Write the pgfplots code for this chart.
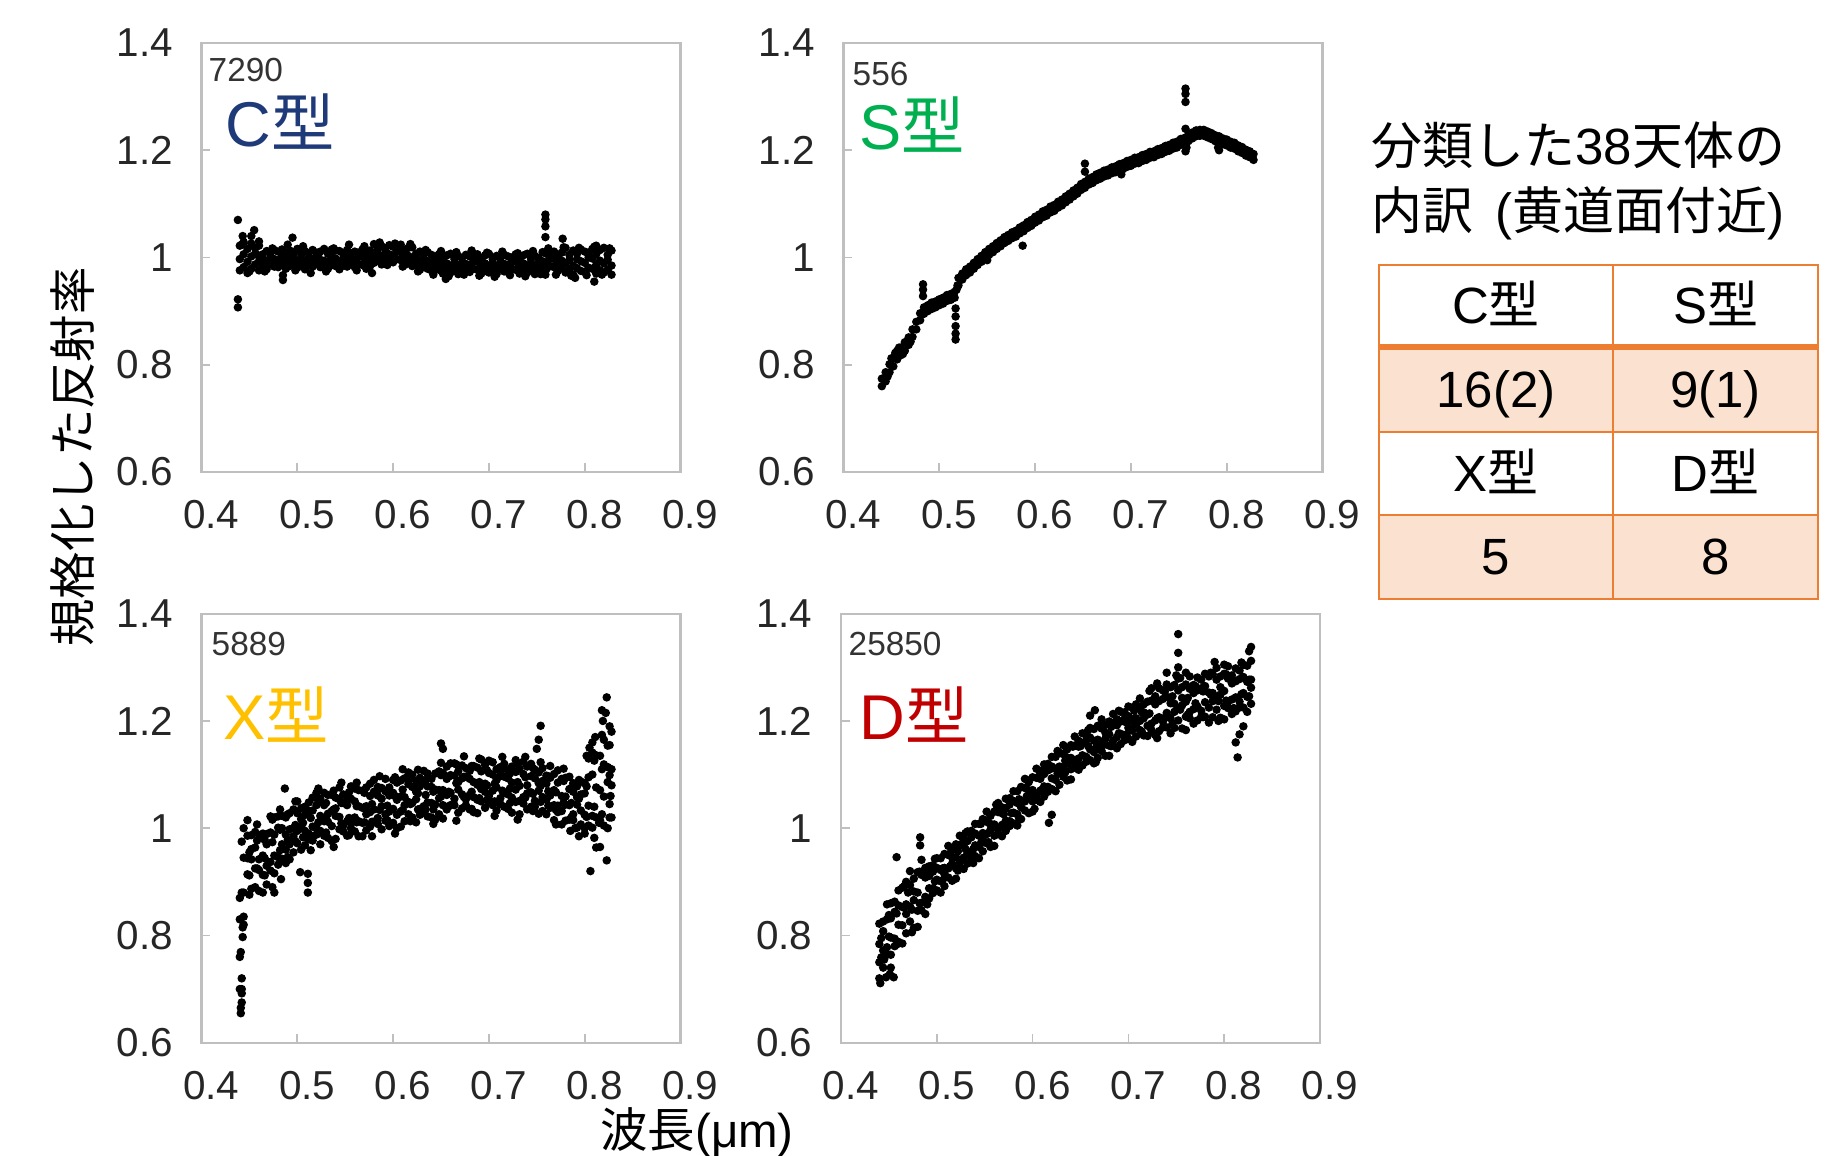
\documentclass[border=0pt]{standalone}
\usepackage{fontspec}
\setmainfont{Liberation Sans}
\newfontfamily\cjk{Noto Sans CJK JP}
\usepackage{pgfplots}
\usepackage{pgfplotstable}
\pgfplotsset{compat=1.18}

\definecolor{ctype}{HTML}{1F3A78}
\definecolor{stype}{HTML}{00B050}
\definecolor{xtype}{HTML}{FFC000}
\definecolor{dtype}{HTML}{C00000}
\definecolor{tabline}{HTML}{ED7D31}
\definecolor{tabfill}{HTML}{FBE2D0}
\definecolor{frame}{HTML}{BFBFBF}
\definecolor{idgray}{HTML}{333333}

\newcommand{\gata}[1]{#1{\cjk 型}}

% columns: wavelength, C (7290), S (556), X (5889), D (25850)
\pgfplotstableread{
x c1 c2 c3 s1 s2 x1 x2 x3 x4 d1 d2 d3 d4
0.440 1.022 0.997 0.976 0.774 0.760 0.700 0.760 0.830 0.870 0.720 0.750 0.784 0.822
0.444 1.029 1.006 0.982 0.786 0.769 0.820 0.880 0.945 1.000 0.740 0.772 0.808 0.826
0.448 1.016 0.992 0.971 0.801 0.786 0.914 0.944 0.986 1.015 0.764 0.778 0.830 0.858
0.452 1.026 1.002 0.979 0.812 0.797 0.887 0.942 0.961 0.987 0.764 0.796 0.832 0.860
0.456 1.017 1.007 0.987 0.826 0.810 0.890 0.925 0.964 0.993 0.780 0.794 0.844 0.863
0.460 1.022 0.993 0.976 0.832 0.818 0.883 0.922 0.942 0.987 0.788 0.820 0.856 0.884
0.464 1.006 0.999 0.985 0.842 0.826 0.880 0.913 0.949 0.990 0.785 0.819 0.853 0.889
0.468 1.012 0.991 0.978 0.851 0.837 0.895 0.930 0.970 0.989 0.804 0.840 0.858 0.900
0.472 1.008 1.000 0.987 0.866 0.852 0.921 0.937 0.992 1.022 0.826 0.854 0.894 0.920
0.476 1.014 0.997 0.983 0.880 0.866 0.916 0.949 0.988 1.020 0.814 0.866 0.882 0.906
0.480 1.011 0.995 0.982 0.896 0.883 0.932 0.946 1.001 1.022 0.816 0.846 0.880 0.918
0.484 1.015 1.001 0.986 0.907 0.895 0.943 0.970 1.000 1.023 0.847 0.861 0.913 0.941
0.488 1.007 0.992 0.979 0.911 0.900 0.935 0.960 0.988 1.020 0.840 0.872 0.908 0.926
0.492 1.013 0.998 0.984 0.916 0.904 0.942 0.970 0.998 1.028 0.869 0.888 0.911 0.929
0.496 1.009 1.002 0.988 0.918 0.907 0.955 0.985 1.000 1.035 0.879 0.888 0.919 0.931
0.500 1.016 0.994 0.981 0.922 0.911 0.972 0.995 1.028 1.050 0.884 0.904 0.926 0.944
0.504 1.006 0.999 0.985 0.925 0.914 0.960 1.003 1.017 1.037 0.880 0.901 0.922 0.944
0.508 1.012 0.991 0.978 0.930 0.919 0.968 0.995 1.025 1.040 0.892 0.914 0.926 0.952
0.512 1.008 1.000 0.987 0.932 0.921 0.979 0.990 1.032 1.048 0.908 0.925 0.950 0.967
0.516 1.014 0.997 0.983 0.936 0.925 0.977 1.003 1.033 1.057 0.902 0.934 0.945 0.960
0.520 1.009 1.002 0.988 0.962 0.948 0.988 1.000 1.043 1.066 0.906 0.925 0.946 0.970
0.524 1.011 0.995 0.982 0.970 0.959 0.970 0.995 1.023 1.055 0.928 0.936 0.969 0.986
0.528 1.016 0.994 0.981 0.978 0.967 0.986 1.013 1.043 1.066 0.924 0.945 0.967 0.978
0.532 1.007 0.992 0.979 0.983 0.972 0.982 1.012 1.027 1.062 0.934 0.953 0.976 0.994
0.536 1.015 1.001 0.986 0.990 0.979 0.976 1.004 1.032 1.062 0.943 0.952 0.983 0.995
0.540 1.013 0.998 0.984 0.997 0.986 0.980 1.023 1.037 1.057 0.948 0.968 0.990 1.008
0.544 1.012 0.991 0.978 1.003 0.992 0.998 1.021 1.054 1.076 0.944 0.965 0.986 1.008
0.548 1.006 0.999 0.985 1.010 0.999 0.994 1.005 1.047 1.063 0.957 0.979 0.991 1.017
0.552 1.014 0.997 0.983 1.016 1.005 0.986 1.013 1.043 1.058 0.972 0.989 1.014 1.031
0.556 1.008 1.000 0.987 1.021 1.010 1.000 1.012 1.055 1.078 0.965 0.997 1.008 1.023
0.560 1.011 0.995 0.982 1.027 1.016 0.994 1.020 1.050 1.074 0.967 0.986 1.007 1.031
0.564 1.009 1.002 0.988 1.032 1.021 0.985 1.013 1.041 1.071 0.989 0.997 1.030 1.047
0.568 1.015 1.001 0.986 1.038 1.027 0.985 1.010 1.038 1.070 0.985 1.006 1.028 1.039
0.572 1.007 0.992 0.979 1.042 1.031 0.996 1.026 1.041 1.076 0.995 1.014 1.037 1.055
0.576 1.013 0.998 0.984 1.047 1.036 1.003 1.030 1.060 1.083 1.004 1.013 1.044 1.056
0.580 1.025 1.003 0.990 1.050 1.039 1.012 1.035 1.068 1.090 1.009 1.029 1.051 1.069
0.584 1.015 1.008 0.994 1.056 1.045 1.008 1.019 1.061 1.077 1.005 1.026 1.047 1.069
0.588 1.021 1.000 0.987 1.060 1.049 0.998 1.041 1.055 1.075 1.017 1.039 1.051 1.077
0.592 1.017 1.009 0.996 1.066 1.055 1.014 1.026 1.069 1.092 1.033 1.050 1.075 1.092
0.596 1.023 1.006 0.992 1.070 1.059 1.004 1.031 1.061 1.076 1.028 1.060 1.071 1.086
0.600 1.020 1.004 0.991 1.076 1.065 1.010 1.036 1.066 1.090 1.031 1.050 1.071 1.095
0.604 1.018 1.011 0.997 1.080 1.069 1.000 1.025 1.053 1.085 1.053 1.061 1.094 1.111
0.608 1.024 1.010 0.995 1.086 1.075 1.003 1.031 1.059 1.089 1.049 1.070 1.092 1.103
0.612 1.014 0.999 0.986 1.089 1.078 1.013 1.043 1.058 1.093 1.059 1.078 1.101 1.119
0.616 1.018 1.003 0.989 1.095 1.084 1.026 1.049 1.082 1.104 1.068 1.077 1.108 1.120
0.620 1.019 0.997 0.984 1.098 1.087 1.020 1.047 1.077 1.100 1.073 1.093 1.115 1.133
0.624 1.007 1.000 0.986 1.104 1.093 1.011 1.054 1.068 1.088 1.069 1.090 1.111 1.133
0.628 1.011 0.990 0.977 1.108 1.097 1.025 1.036 1.078 1.094 1.081 1.103 1.115 1.141
0.632 1.005 0.997 0.984 1.114 1.103 1.029 1.041 1.084 1.107 1.096 1.113 1.138 1.155
0.636 1.010 0.993 0.979 1.119 1.108 1.022 1.048 1.078 1.102 1.089 1.121 1.132 1.147
0.640 1.005 0.989 0.976 1.125 1.114 1.020 1.047 1.077 1.092 1.091 1.110 1.131 1.155
0.644 1.002 0.995 0.981 1.130 1.119 1.016 1.044 1.072 1.102 1.113 1.121 1.154 1.171
0.648 1.006 0.992 0.977 1.137 1.126 1.026 1.056 1.071 1.106 1.109 1.130 1.152 1.163
0.652 0.998 0.983 0.970 1.141 1.130 1.018 1.043 1.071 1.103 1.117 1.136 1.159 1.177
0.656 1.004 0.989 0.975 1.147 1.136 1.035 1.062 1.092 1.115 1.124 1.133 1.164 1.176
0.660 1.007 0.985 0.972 1.150 1.139 1.043 1.066 1.099 1.121 1.127 1.147 1.169 1.187
0.664 0.997 0.990 0.976 1.155 1.144 1.043 1.055 1.098 1.121 1.121 1.142 1.163 1.185
0.668 1.003 0.982 0.969 1.158 1.147 1.029 1.072 1.086 1.106 1.131 1.153 1.165 1.191
0.672 0.999 0.991 0.978 1.162 1.151 1.037 1.063 1.093 1.117 1.144 1.161 1.186 1.203
0.676 1.005 0.988 0.974 1.164 1.153 1.043 1.054 1.096 1.112 1.135 1.167 1.178 1.193
0.680 1.002 0.986 0.973 1.168 1.157 1.035 1.062 1.092 1.107 1.135 1.154 1.175 1.199
0.684 1.000 0.993 0.979 1.170 1.159 1.030 1.058 1.086 1.116 1.155 1.163 1.196 1.213
0.688 1.006 0.992 0.977 1.174 1.163 1.028 1.053 1.081 1.113 1.149 1.170 1.192 1.203
0.692 0.998 0.983 0.970 1.176 1.165 1.050 1.073 1.106 1.128 1.157 1.176 1.199 1.217
0.696 1.004 0.989 0.975 1.180 1.169 1.038 1.068 1.083 1.118 1.164 1.173 1.204 1.216
0.700 1.007 0.985 0.972 1.182 1.171 1.048 1.060 1.103 1.126 1.167 1.187 1.209 1.227
0.704 0.997 0.990 0.976 1.186 1.175 1.043 1.070 1.100 1.123 1.161 1.182 1.203 1.225
0.708 1.003 0.982 0.969 1.187 1.176 1.033 1.076 1.090 1.110 1.171 1.193 1.205 1.231
0.712 0.999 0.991 0.978 1.191 1.180 1.045 1.056 1.098 1.114 1.183 1.200 1.225 1.242
0.716 1.005 0.988 0.974 1.193 1.182 1.040 1.066 1.096 1.120 1.173 1.205 1.216 1.231
0.720 1.002 0.986 0.973 1.197 1.186 1.036 1.063 1.093 1.108 1.172 1.191 1.212 1.236
0.724 1.000 0.993 0.979 1.198 1.187 1.029 1.057 1.085 1.115 1.183 1.195 1.238 1.261
0.728 1.006 0.992 0.977 1.202 1.191 1.049 1.072 1.105 1.127 1.174 1.201 1.231 1.246
0.732 0.998 0.983 0.970 1.204 1.193 1.026 1.051 1.079 1.111 1.181 1.207 1.237 1.261
0.736 1.004 0.989 0.975 1.208 1.197 1.046 1.058 1.101 1.124 1.188 1.199 1.241 1.257
0.740 1.007 0.985 0.972 1.210 1.199 1.035 1.065 1.080 1.115 1.188 1.215 1.245 1.268
0.744 0.997 0.990 0.976 1.214 1.203 1.040 1.067 1.097 1.120 1.177 1.205 1.233 1.263
0.748 1.003 0.982 0.969 1.216 1.205 1.040 1.051 1.093 1.109 1.187 1.217 1.232 1.267
0.752 0.999 0.991 0.978 1.221 1.210 1.027 1.070 1.084 1.104 1.201 1.224 1.257 1.279
0.756 1.010 0.993 0.979 1.223 1.212 1.032 1.058 1.088 1.112 1.186 1.229 1.243 1.263
0.760 1.007 0.991 0.978 1.229 1.217 1.026 1.053 1.083 1.098 1.183 1.208 1.236 1.268
0.764 1.005 0.998 0.984 1.233 1.222 1.038 1.061 1.094 1.116 1.205 1.217 1.260 1.283
0.768 1.011 0.997 0.982 1.237 1.226 1.015 1.043 1.071 1.101 1.195 1.222 1.252 1.267
0.772 1.003 0.988 0.975 1.238 1.227 1.030 1.042 1.085 1.108 1.201 1.227 1.257 1.281
0.776 1.009 0.994 0.980 1.238 1.227 1.007 1.032 1.060 1.092 1.208 1.219 1.261 1.277
0.780 1.018 0.989 0.972 1.235 1.224 1.014 1.044 1.059 1.094 1.208 1.235 1.265 1.288
0.784 1.005 0.996 0.977 1.232 1.221 1.016 1.043 1.073 1.096 1.197 1.225 1.253 1.283
0.788 1.013 0.985 0.968 1.228 1.217 1.015 1.026 1.068 1.084 1.207 1.237 1.252 1.287
0.792 1.007 0.997 0.980 1.226 1.215 1.001 1.044 1.058 1.078 1.221 1.244 1.277 1.299
0.796 1.015 0.993 0.975 1.222 1.211 1.007 1.033 1.063 1.087 1.206 1.249 1.263 1.283
0.800 1.011 0.990 0.973 1.220 1.209 0.990 1.025 1.065 1.084 1.203 1.228 1.256 1.288
0.804 1.009 1.000 0.981 1.216 1.205 1.005 1.042 1.095 1.130 1.224 1.236 1.279 1.302
0.808 1.016 0.998 0.979 1.214 1.203 1.001 1.023 1.100 1.141 1.213 1.240 1.270 1.285
0.812 1.006 0.986 0.970 1.209 1.198 0.964 1.020 1.076 1.136 1.218 1.244 1.274 1.298
0.816 1.014 0.994 0.976 1.206 1.195 0.965 1.015 1.071 1.135 1.225 1.236 1.278 1.294
0.820 1.018 0.989 0.972 1.201 1.190 1.005 1.059 1.119 1.165 1.225 1.252 1.282 1.305
0.824 1.005 0.996 0.977 1.198 1.187 1.000 1.086 1.114 1.154 1.217 1.245 1.273 1.303
0.828 1.013 0.985 0.968 1.193 1.182 1.020 1.080 1.110 1.180 1.232 1.262 1.277 1.312
}\spec

% in-between channels: C, X and D
\pgfplotstableread{
x cx xa xb xc da db
0.442 1.024 0.720 0.880 0.975 0.759 0.795
0.450 0.974 0.876 0.912 0.955 0.798 0.838
0.458 1.005 0.925 0.977 1.007 0.783 0.841
0.466 0.974 0.912 0.944 0.978 0.852 0.892
0.474 1.017 0.890 0.974 1.016 0.806 0.848
0.482 0.991 0.959 0.997 1.035 0.860 0.919
0.490 1.024 0.946 0.978 1.026 0.917 0.858
0.498 0.976 0.976 1.006 1.050 0.901 0.943
0.506 1.021 0.983 1.010 1.038 0.903 0.925
0.514 0.971 0.959 0.986 1.019 0.929 0.953
0.522 1.002 1.011 1.051 1.074 0.921 0.957
0.530 0.974 0.992 1.019 1.047 0.961 0.991
0.538 1.017 0.965 1.035 1.070 0.935 0.961
0.546 0.991 1.009 1.047 1.085 0.972 1.008
0.554 1.024 0.987 1.019 1.067 1.010 0.974
0.562 0.976 1.011 1.041 1.085 1.002 1.044
0.570 1.021 1.011 1.038 1.066 1.004 1.026
0.578 0.971 0.985 1.012 1.045 1.028 1.052
0.586 1.028 1.034 1.074 1.097 1.018 1.054
0.594 0.986 1.015 1.042 1.070 1.060 1.090
0.602 1.026 0.990 1.060 1.095 1.036 1.062
0.610 0.983 1.034 1.072 1.110 1.072 1.108
0.618 1.025 1.013 1.045 1.093 1.110 1.074
0.626 0.974 1.035 1.065 1.109 1.102 1.144
0.634 1.014 1.035 1.062 1.090 1.104 1.126
0.642 0.968 1.008 1.035 1.068 1.128 1.152
0.650 1.012 1.059 1.099 1.122 1.117 1.153
0.658 0.965 1.041 1.068 1.096 1.153 1.183
0.666 1.010 1.014 1.084 1.119 1.123 1.149
0.674 0.968 1.058 1.096 1.134 1.155 1.191
0.682 1.013 1.036 1.068 1.116 1.189 1.153
0.690 0.966 1.056 1.086 1.130 1.177 1.219
0.698 1.009 1.053 1.080 1.108 1.175 1.197
0.706 0.964 1.023 1.050 1.083 1.195 1.219
0.714 1.011 1.070 1.110 1.133 1.180 1.216
0.722 0.967 1.047 1.074 1.102 1.214 1.256
0.730 1.008 1.016 1.086 1.121 1.168 1.205
0.738 0.965 1.057 1.095 1.133 1.206 1.255
0.746 1.012 1.032 1.064 1.112 1.246 1.195
0.754 0.969 1.049 1.079 1.123 1.221 1.280
0.762 1.017 1.042 1.069 1.097 1.212 1.243
0.770 0.968 1.007 1.034 1.067 1.233 1.265
0.778 1.019 1.048 1.088 1.111 1.207 1.255
0.786 0.966 1.020 1.047 1.075 1.249 1.290
0.794 1.018 0.985 1.055 1.090 1.200 1.237
0.802 0.967 1.021 1.078 1.135 1.238 1.287
0.810 1.020 0.982 1.040 1.126 1.275 1.224
0.818 0.968 1.026 1.110 1.174 1.250 1.309
0.826 1.017 1.045 1.099 1.155 1.246 1.277
}\mid

\pgfplotsset{
  panel/.style={
    scale only axis, width=4.79cm, height=4.29cm, anchor=south west,
    xmin=0.4, xmax=0.9, ymin=0.6, ymax=1.4,
    xtick={0.4,0.5,0.6,0.7,0.8,0.9}, ytick={0.6,0.8,1,1.2,1.4},
    tick pos=left,
    axis line style={frame, line width=0.6pt},
    tick style={frame, line width=0.5pt}, tick align=inside, major tick length=2.5pt,
    tick label style={font=\fontsize{11.5}{13}\selectfont, text=black!85},
    /pgf/number format/assume math mode=true,
    xticklabel style={yshift=-4.6pt, xshift=2.8pt},
    yticklabel style={xshift=-4.6pt},
    clip=false,
  },
  dots/.style={only marks, mark=*, mark size=1.0pt, black, mark options={draw=black, fill=black}},
}

\begin{document}
\begin{tikzpicture}
\useasboundingbox (0,0) rectangle (18.37,11.55);

% C type
\begin{axis}[panel, at={(2.015cm,6.83cm)}]
\addplot[dots] table[x=x, y=c1]{\spec};
\addplot[dots] table[x=x, y=c2]{\spec};
\addplot[dots] table[x=x, y=c3]{\spec};
\addplot[dots] table[x=x, y=cx]{\mid};
\addplot[dots] coordinates {(0.438,1.070) (0.438,0.922) (0.438,0.907) (0.443,1.040) (0.455,1.051) (0.452,1.040)
  (0.460,1.030) (0.495,1.037) (0.485,0.967) (0.485,0.958) (0.655,0.960) (0.655,0.968) (0.759,1.080) (0.759,1.071)
  (0.759,1.058) (0.759,1.038) (0.759,0.968) (0.777,1.035) (0.812,1.022) (0.810,0.955) (0.790,0.962)};
\end{axis}

% S type
\begin{axis}[panel, at={(8.435cm,6.83cm)}]
\addplot[dots] table[x=x, y=s1]{\spec};
\addplot[dots] table[x=x, y=s2]{\spec};
\addplot[dots] coordinates {(0.483,0.950) (0.483,0.940) (0.483,0.928) (0.517,0.905) (0.517,0.890) (0.517,0.872)
  (0.517,0.858) (0.517,0.847) (0.518,0.940) (0.519,0.948) (0.550,0.995) (0.587,1.022) (0.652,1.175) (0.652,1.160)
  (0.690,1.155) (0.757,1.315) (0.757,1.305) (0.757,1.290) (0.757,1.240) (0.758,1.205) (0.757,1.198) (0.792,1.200) (0.791,1.205)
  (0.446,0.778) (0.454,0.822) (0.462,0.820) (0.470,0.843) (0.458,0.832) (0.450,0.812)};
\end{axis}

% X type
\begin{axis}[panel, at={(2.015cm,1.123cm)}]
\addplot[dots] table[x=x, y=x1]{\spec};
\addplot[dots] table[x=x, y=x2]{\spec};
\addplot[dots] table[x=x, y=x3]{\spec};
\addplot[dots] table[x=x, y=x4]{\spec};
\addplot[dots] table[x=x, y=xa]{\mid};
\addplot[dots] table[x=x, y=xb]{\mid};
\addplot[dots] table[x=x, y=xc]{\mid};
\addplot[dots] coordinates {(0.441,0.655) (0.441,0.665) (0.442,0.675) (0.442,0.692) (0.442,0.700) (0.441,0.769)
  (0.443,0.797) (0.443,0.815) (0.444,0.835) (0.487,1.074) (0.511,0.915) (0.511,0.898) (0.511,0.880) (0.503,0.918)
  (0.483,0.905) (0.476,0.880) (0.650,1.158) (0.652,1.148) (0.754,1.191) (0.752,1.165) (0.750,1.148) (0.806,0.920)
  (0.823,1.244) (0.818,1.220) (0.819,1.200) (0.822,1.215) (0.826,1.190) (0.823,0.940) (0.811,1.170) (0.808,1.160)
  (0.805,1.150) (0.800,1.000) (0.815,1.010) (0.826,1.020) (0.827,1.060) (0.790,1.000) (0.785,0.995)};
\end{axis}

% D type
\begin{axis}[panel, at={(8.41cm,1.123cm)}]
\addplot[dots] table[x=x, y=d1]{\spec};
\addplot[dots] table[x=x, y=d2]{\spec};
\addplot[dots] table[x=x, y=d3]{\spec};
\addplot[dots] table[x=x, y=d4]{\spec};
\addplot[dots] table[x=x, y=da]{\mid};
\addplot[dots] table[x=x, y=db]{\mid};
\addplot[dots] coordinates {(0.441,0.711) (0.447,0.722) (0.451,0.728) (0.455,0.722) (0.452,0.740) (0.445,0.755)
  (0.458,0.946) (0.4826,0.983) (0.4826,0.968) (0.470,0.880) (0.617,1.010) (0.620,1.025) (0.660,1.210) (0.665,1.220)
  (0.752,1.362) (0.752,1.327) (0.752,1.300) (0.750,1.285) (0.760,1.290) (0.790,1.310) (0.800,1.305) (0.814,1.132)
  (0.812,1.160) (0.826,1.330) (0.828,1.338) (0.740,1.290) (0.730,1.270) (0.820,1.190) (0.816,1.175)};
\end{axis}

% panel captions
\node[anchor=base west, inner sep=0, text=idgray, font=\fontsize{9.5}{11}\selectfont] at (2.08,10.73) {7290};
\node[anchor=base west, inner sep=0, text=ctype, font=\fontsize{18}{20}\selectfont] at (2.25,10.08) {\gata{C}};
\node[anchor=base west, inner sep=0, text=idgray, font=\fontsize{9.5}{11}\selectfont] at (8.52,10.69) {556};
\node[anchor=base west, inner sep=0, text=stype, font=\fontsize{18}{20}\selectfont] at (8.59,10.05) {\gata{S}};
\node[anchor=base west, inner sep=0, text=idgray, font=\fontsize{9.5}{11}\selectfont] at (2.11,4.99) {5889};
\node[anchor=base west, inner sep=0, text=xtype, font=\fontsize{18}{20}\selectfont] at (2.23,4.15) {\gata{X}};
\node[anchor=base west, inner sep=0, text=idgray, font=\fontsize{9.5}{11}\selectfont] at (8.48,4.99) {25850};
\node[anchor=base west, inner sep=0, text=dtype, font=\fontsize{18}{20}\selectfont] at (8.59,4.15) {\gata{D}};

% shared axis titles
\node[rotate=90, font=\fontsize{13.5}{15}\selectfont] at (0.73,6.98) {{\cjk 規格化した反射率}};
\node[font=\fontsize{13.5}{16}\selectfont] at (6.97,0.23) {{\cjk 波長}(μm)};

% breakdown table
\node[anchor=base west, inner sep=0, font=\fontsize{14.5}{17}\selectfont] at (13.71,9.90) {{\cjk 分類した}38{\cjk 天体の}};
\node[anchor=base west, inner sep=0, font=\fontsize{14.5}{17}\selectfont] at (13.71,9.25) {{\cjk 内訳}\hspace{0.15em} ({\cjk 黄道面付近})};
\fill[tabfill] (13.79,8.08) rectangle (18.18,7.23);
\fill[tabfill] (13.79,6.40) rectangle (18.18,5.56);
\draw[tabline, line width=0.7pt] (13.79,8.90) rectangle (18.18,5.56);
\draw[tabline, line width=0.7pt] (13.79,7.23) -- (18.18,7.23) (13.79,6.40) -- (18.18,6.40) (16.13,8.90) -- (16.13,5.56);
\draw[tabline, line width=1.6pt] (13.79,8.08) -- (18.18,8.08);
\begin{scope}[every node/.style={anchor=base, inner sep=0, font=\fontsize{14.5}{17}\selectfont}]
\node at (14.96,8.31) {\gata{C}};
\node at (17.155,8.31) {\gata{S}};
\node at (14.96,7.47) {16(2)};
\node at (17.155,7.47) {9(1)};
\node at (14.96,6.63) {\gata{X}};
\node at (17.155,6.63) {\gata{D}};
\node at (14.96,5.80) {5};
\node at (17.155,5.80) {8};
\end{scope}
\end{tikzpicture}
\end{document}
